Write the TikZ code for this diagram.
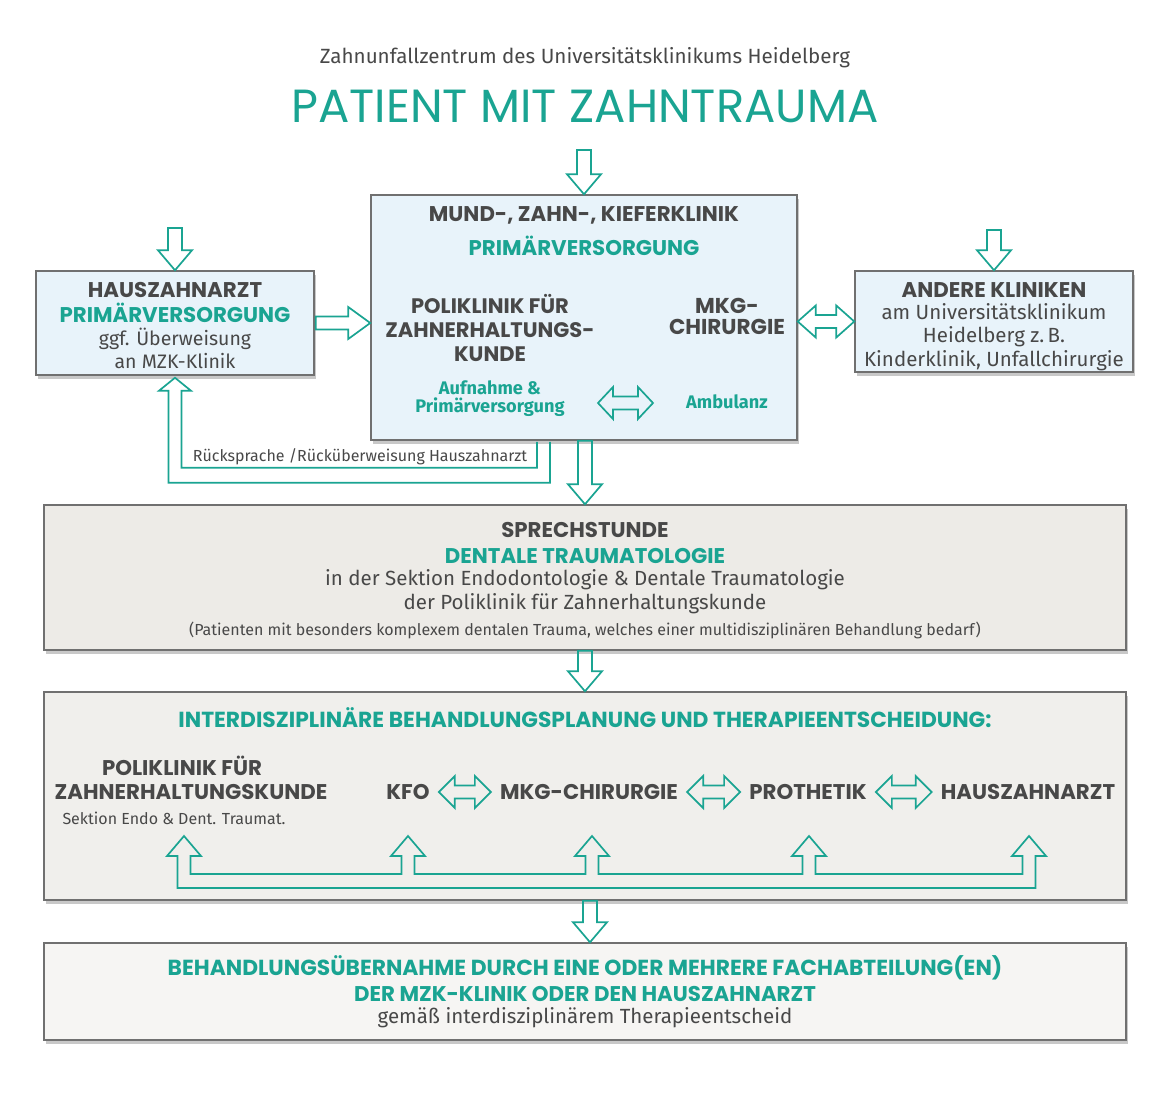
\documentclass[tikz,border=0pt]{standalone}
\usepackage{fontspec}
\setmainfont{Fira Sans}
\newfontfamily\hd{Poppins}
\usetikzlibrary{shadows,calc}
\definecolor{teal1}{RGB}{26,164,146}
\definecolor{txt}{RGB}{72,72,72}
\definecolor{boxline}{RGB}{112,112,112}
\definecolor{blue1}{RGB}{232,243,250}
\definecolor{grey2}{RGB}{237,235,231}
\definecolor{grey3}{RGB}{240,239,236}
\definecolor{grey4}{RGB}{246,245,243}
% hollow arrows
\newcommand\darr[2]{\draw[hollow] let \p1=#1, \p2=#2 in (\x2-7pt,\y1) -- (\x2-7pt,\y2+20pt) -- (\x2-17pt,\y2+20pt) -- (\x2,\y2) -- (\x2+17pt,\y2+20pt) -- (\x2+7pt,\y2+20pt) -- (\x2+7pt,\y1) -- cycle;}
\newcommand\rarr[2]{\draw[hollow] let \p1=#1, \p2=#2 in (\x1,\y1+6.5pt) -- (\x2-22pt,\y1+6.5pt) -- (\x2-22pt,\y1+16pt) -- (\x2,\y1) -- (\x2-22pt,\y1-16pt) -- (\x2-22pt,\y1-6.5pt) -- (\x1,\y1-6.5pt) -- cycle;}
\newcommand\harr[3]{\draw[hollow] let \p1=#1, \p2=#2 in (\x1,\y1) -- (\x1+#3,\y1+16pt) -- (\x1+#3,\y1+6.5pt) -- (\x2-#3,\y1+6.5pt) -- (\x2-#3,\y1+16pt) -- (\x2,\y1) -- (\x2-#3,\y1-16pt) -- (\x2-#3,\y1-6.5pt) -- (\x1+#3,\y1-6.5pt) -- (\x1+#3,\y1-16pt) -- cycle;}
\begin{document}
\begin{tikzpicture}[x=1pt,y=-1pt,
  box/.style={draw=boxline, line width=1.5pt, inner sep=0pt,
    drop shadow={shadow xshift=1.5pt, shadow yshift=-4pt, opacity=0.3, fill=black!70}},
  hollow/.style={draw=teal1, line width=1.7pt, line join=miter},
  hcap/.style={font=\hd\bfseries\fontsize{21.3}{24}\selectfont, text=txt, align=center, inner sep=0pt},
  hcapt/.style={hcap, text=teal1},
  reg/.style={font=\fontsize{20.5}{24}\selectfont, text=txt, align=center, inner sep=0pt},
  sml/.style={font=\fontsize{16}{18}\selectfont, text=txt, align=center, inner sep=0pt},
  tb/.style={font=\bfseries\fontsize{18.2}{18}\selectfont, text=teal1, align=center, inner sep=0pt}]
\useasboundingbox[fill=white] (0,0) rectangle (1170,1106);

% header
\node[reg, font=\fontsize{20.6}{22}\selectfont] (sub) at (585,58) {Zahnunfallzentrum des Universitätsklinikums Heidelberg};
\node[font=\hd\fontsize{46.5}{50}\selectfont, text=teal1, inner sep=0pt] (title) at (585,106) {PATIENT MIT ZAHNTRAUMA};

% boxes
\node[box, fill=blue1, minimum width=426pt, minimum height=245pt] (main) at (584,317.5) {};
\node[box, fill=blue1, minimum width=278pt, minimum height=104pt] (hz) at (175,323) {};
\node[box, fill=blue1, minimum width=278pt, minimum height=101pt] (rb) at (994,321.5) {};
\node[box, fill=grey2, minimum width=1082pt, minimum height=145pt] (b2) at (585,577.5) {};
\node[box, fill=grey3, minimum width=1082pt, minimum height=208pt] (b3) at (585,796) {};
\node[box, fill=grey4, minimum width=1082pt, minimum height=97pt] (b4) at (585,991.5) {};

% main box texts
\node[hcap] (m1) at (584,215) {MUND-, ZAHN-, KIEFERKLINIK};
\node[hcapt] (m2) at (584,246) {PRIMÄRVERSORGUNG};
\node[hcap, font=\hd\bfseries\fontsize{21}{24}\selectfont] (m3) at (490,328) {POLIKLINIK FÜR\\ZAHNERHALTUNGS-\\KUNDE};
\node[hcap, font=\hd\bfseries\fontsize{21.5}{21}\selectfont] (m4) at (727,316) {MKG-\\CHIRURGIE};
\node[tb] (m5) at (490,399) {Aufnahme \&\\Primärversorgung};
\node[tb] (m6) at (727,402) {Ambulanz};
\coordinate (a1) at (598,403);
\coordinate (a2) at (653,403);
\harr{(a1)}{(a2)}{15pt}

% left box texts
\node[hcap] (h1) at (175,290) {HAUSZAHNARZT};
\node[hcapt] (h2) at (175,313) {PRIMÄRVERSORGUNG};
\node[reg, font=\fontsize{19.5}{23}\selectfont] (h3) at (175,348) {ggf. Überweisung\\an MZK-Klinik};

% right box texts
\node[hcap] (r1) at (994,290) {ANDERE KLINIKEN};
\node[reg, font=\fontsize{20.5}{23.5}\selectfont] (r2) at (994,337) {am Universitätsklinikum\\Heidelberg z.\,B.\\Kinderklinik, Unfallchirurgie};

% top arrows
\coordinate (t0) at (585,150);
\coordinate (t1) at (175,228);
\coordinate (t2) at (994,230);
\darr{(t0)}{(main.north)}
\darr{(t1)}{(hz.north)}
\darr{(t2)}{(rb.north)}

% hz -> main, main <-> rb
\rarr{($(hz.east)+(1,0)$)}{(main.west |- hz.east)}
\harr{(main.east |- rb.west)}{(rb.west)}{18pt}

% feedback loop
\draw[hollow] ($(main.south)+(-47,1)$) -- ($(main.south)+(-47,27)$) -- ($(hz.south)+(6.5,92)$) -- ($(hz.south)+(6.5,15)$) -- ++(9.5,0) -- ($(hz.south)+(0,2)$) -- ++(-16,13) -- ++(9.5,0) -- ($(hz.south)+(-6.5,107)$) -- ($(main.south)+(-34,42)$) -- ($(main.south)+(-34,1)$);
\node[sml] (rs) at (360,457) {Rücksprache /Rücküberweisung Hauszahnarzt};

% main -> b2
\darr{(main.south)}{(b2.north)}

% box 2 texts
\node[hcap] (s1) at (585,530) {SPRECHSTUNDE};
\node[hcapt] (s2) at (585,556) {DENTALE TRAUMATOLOGIE};
\node[reg] (s3) at (585,592) {in der Sektion Endodontologie \& Dentale Traumatologie\\der Poliklinik für Zahnerhaltungskunde};
\node[sml] (s4) at (585,630) {(Patienten mit besonders komplexem dentalen Trauma, welches einer multidisziplinären Behandlung bedarf)};

% b2 -> b3
\darr{(b2.south)}{(b3.north)}

% box 3 texts
\node[hcapt, font=\hd\bfseries\fontsize{21.8}{24}\selectfont] (i0) at (585,718) {INTERDISZIPLINÄRE BEHANDLUNGSPLANUNG UND THERAPIEENTSCHEIDUNG:};
\node[hcap] (p1) at (182,766) {POLIKLINIK FÜR};
\node[hcap] (p2) at (191,792) {ZAHNERHALTUNGSKUNDE};
\node[sml] (p3) at (174,818) {Sektion Endo \& Dent. Traumat.};
\node[hcap] (kfo) at (408,792) {KFO};
\node[hcap] (mkg) at (589,792) {MKG-CHIRURGIE};
\node[hcap] (pro) at (808,792) {PROTHETIK};
\node[hcap] (hza) at (1028,792) {HAUSZAHNARZT};
\harr{($(kfo.east)+(9,0)$)}{($(mkg.west)+(-9,0)$)}{16pt}
\harr{($(mkg.east)+(9,0)$)}{($(pro.west)+(-9,0)$)}{16pt}
\harr{($(pro.east)+(9,0)$)}{($(hza.west)+(-9,0)$)}{16pt}

% distribution network
\coordinate (u1) at (184,836);
\coordinate (u2) at (408,836);
\coordinate (u3) at (592,836);
\coordinate (u4) at (809,836);
\coordinate (u5) at (1029,836);
\draw[hollow] (u1) -- ++(17,20) -- ++(-10.5,0) -- ++(0,18)
  -- ($(u2)+(-6.5,38)$) -- ++(0,-18) -- ++(-10.5,0) -- (u2) -- ++(17,20) -- ++(-10.5,0) -- ++(0,18)
  -- ($(u3)+(-6.5,38)$) -- ++(0,-18) -- ++(-10.5,0) -- (u3) -- ++(17,20) -- ++(-10.5,0) -- ++(0,18)
  -- ($(u4)+(-6.5,38)$) -- ++(0,-18) -- ++(-10.5,0) -- (u4) -- ++(17,20) -- ++(-10.5,0) -- ++(0,18)
  -- ($(u5)+(-6.5,38)$) -- ++(0,-18) -- ++(-10.5,0) -- (u5) -- ++(17,20) -- ++(-10.5,0) -- ++(0,32)
  -- ($(u1)+(-6.5,52)$) -- ++(0,-32) -- ++(-10.5,0) -- cycle;

% b3 -> b4
\darr{($(b3.south)+(5,0)$)}{($(b4.north)+(5,0)$)}

% box 4 texts
\node[hcapt, font=\hd\bfseries\fontsize{21.8}{24}\selectfont] (e1) at (585,968) {BEHANDLUNGSÜBERNAHME DURCH EINE ODER MEHRERE FACHABTEILUNG(EN)};
\node[hcapt] (e2) at (585,994) {DER MZK-KLINIK ODER DEN HAUSZAHNARZT};
\node[reg] (e3) at (585,1018) {gemäß interdisziplinärem Therapieentscheid};
\end{tikzpicture}
\end{document}
